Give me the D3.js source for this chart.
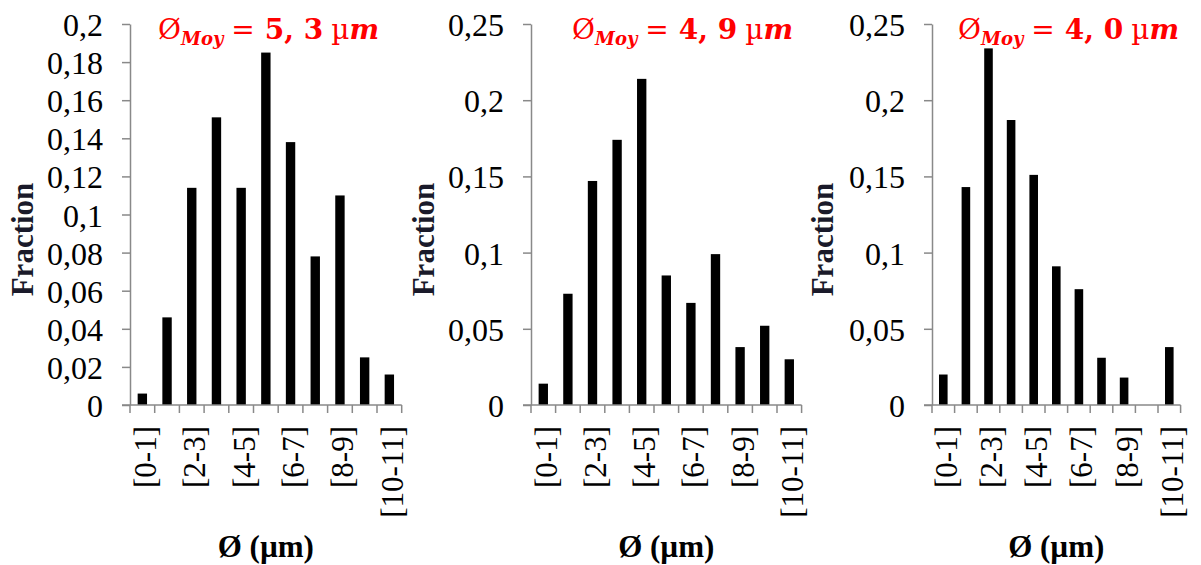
<!DOCTYPE html>
<html><head><meta charset="utf-8">
<script src="https://cdn.jsdelivr.net/npm/d3@7"></script>
<style>body{margin:0;background:#fff}svg{display:block}</style>
</head><body>
<svg id="c" width="1201" height="565"></svg>
<script>
const categories = ["[0-1]","[1-2]","[2-3]","[3-4]","[4-5]","[5-6]","[6-7]","[7-8]","[8-9]","[9-10]","[10-11]"];
const values1 = [0.006,0.046,0.114,0.151,0.114,0.185,0.138,0.078,0.110,0.025,0.016];
const values2 = [0.014,0.073,0.147,0.174,0.214,0.085,0.067,0.099,0.038,0.052,0.030];
const values3 = [0.020,0.143,0.234,0.187,0.151,0.091,0.076,0.031,0.018,0.000,0.038];
const yTicks1 = [0,0.02,0.04,0.06,0.08,0.1,0.12,0.14,0.16,0.18,0.2];
const yTicks2 = [0,0.05,0.1,0.15,0.2,0.25];
const titles = ["5, 3","4, 9","4, 0"];
const yLabel = "Fraction";
const xLabel = "Ø (µm)";

const panels = [
  {values: values1, ticks: yTicks1, max: 0.2, x0: 130, step: 24.7, title: titles[0], tx: 158, fx: 23},
  {values: values2, ticks: yTicks2, max: 0.25, x0: 531, step: 24.6, title: titles[1], tx: 572, fx: 424},
  {values: values3, ticks: yTicks2, max: 0.25, x0: 932, step: 22.6, title: titles[2], tx: 958, fx: 823}
];
const svg = d3.select("#c");
const yTop = 24, yBot = 405;
const axisCol = "#898989";
const fmt = v => String(+v.toFixed(2)).replace(".", ",");
const serif = "'Liberation Serif', 'Times New Roman', serif";

panels.forEach(p => {
  const g = svg.append("g");
  const x = d3.scaleBand().domain(categories)
    .range([p.x0, p.x0 + p.step * categories.length])
    .paddingInner(0.62).paddingOuter(0.31);
  const y = d3.scaleLinear().domain([0, p.max]).range([yBot, yTop]);
  const step = x.step();

  // bars
  g.selectAll("rect.bar").data(p.values).join("rect")
    .attr("x", (d,i) => x(categories[i]))
    .attr("width", x.bandwidth())
    .attr("y", d => y(d))
    .attr("height", d => yBot - y(d))
    .attr("fill", "#000");

  // y axis
  const ya = d3.axisLeft(y).tickValues(p.ticks).tickFormat(fmt).tickSize(8).tickSizeOuter(0);
  const yg = g.append("g").attr("transform", `translate(${p.x0},0)`).call(ya);
  yg.select(".domain").attr("stroke", axisCol).attr("stroke-width", 1.5);
  yg.selectAll(".tick line").attr("stroke", axisCol).attr("stroke-width", 1.5);
  yg.selectAll(".tick text")
    .attr("font-family", serif)
    .attr("font-size", 32).attr("fill", "#000").attr("x", -27).attr("dy", "0.36em");

  // x axis
  const bounds = d3.range(categories.length + 1).map(i => x(categories[0]) - step * x.paddingInner() / 2 + i * step);
  g.append("line").attr("x1", p.x0 - 8).attr("x2", bounds[bounds.length-1])
    .attr("y1", yBot).attr("y2", yBot).attr("stroke", axisCol).attr("stroke-width", 1.5);
  g.selectAll("line.xt").data(bounds).join("line")
    .attr("x1", d => d).attr("x2", d => d).attr("y1", yBot).attr("y2", yBot + 8)
    .attr("stroke", axisCol).attr("stroke-width", 1.5);
  g.selectAll("text.xl").data(categories.filter((c,i) => i % 2 === 0)).join("text")
    .attr("transform", d => `translate(${x(d) + x.bandwidth()/2 + 3},426) rotate(-90)`)
    .attr("text-anchor", "end").attr("dominant-baseline", "central")
    .attr("font-family", serif)
    .attr("font-size", 31).attr("fill", "#000").text(d => d);

  // x label
  const xr = x.range();
  g.append("text").attr("x", (xr[0] + xr[1]) / 2).attr("y", 557)
    .attr("text-anchor", "middle")
    .attr("font-family", serif)
    .attr("font-weight", "bold").attr("font-size", 31).attr("fill", "#000").text(xLabel);

  // y label
  g.append("text").attr("transform", `translate(${p.fx + 10},${(182 + 297) / 2}) rotate(-90)`)
    .attr("text-anchor", "middle")
    .attr("font-family", serif)
    .attr("font-weight", "bold").attr("font-size", 31).attr("fill", "#1a1a2a").text(yLabel);

  // title
  const t = g.append("text").attr("x", p.tx).attr("y", 39)
    .attr("font-family", "'DejaVu Serif', serif").attr("font-size", 28).attr("fill", "#ff0000");
  t.append("tspan").text("Ø");
  t.append("tspan").attr("font-weight", "bold").attr("font-style", "italic").attr("font-size", 18).attr("dy", 6).text("Moy");
  t.append("tspan").attr("dy", -6).attr("dx", 8).text("=");
  t.append("tspan").attr("dx", 10).attr("font-weight", "bold").text(p.title);
  t.append("tspan").attr("dx", 8).text("µ");
  t.append("tspan").attr("font-weight", "bold").attr("font-style", "italic").text("m");
});
</script>
</body></html>
